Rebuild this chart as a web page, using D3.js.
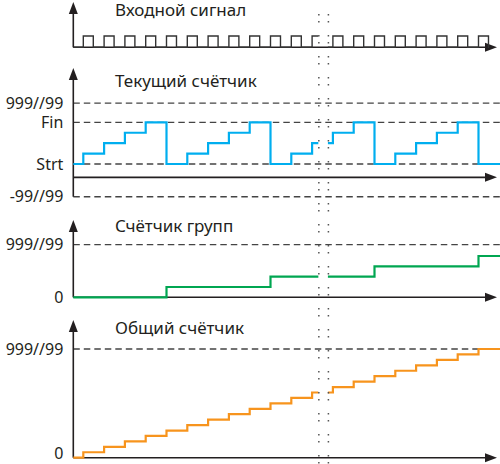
<!DOCTYPE html>
<html>
<head>
<meta charset="utf-8">
<script src="https://cdn.jsdelivr.net/npm/d3@7"></script>
<style>
  body { margin: 0; background: #fff; }
  svg { display: block; font-family: "Noto Sans", sans-serif; }
</style>
</head>
<body>
<svg></svg>
<script>
// pulse / step moments, in input periods
let stepTimes = [0, 1, 2, 3, 4, 5, 6, 7, 8, 9, 10, 11, 12, 13, 14, 15, 16, 17, 18, 19];
let pulseWidth = 0.48;
// counter values after each step
let currentCount = [1, 2, 3, 4, 0, 1, 2, 3, 4, 0, 1, 2, 3, 4, 0, 1, 2, 3, 4, 0];
let groupCount = [0, 0, 0, 0, 1, 1, 1, 1, 1, 2, 2, 2, 2, 2, 3, 3, 3, 3, 3, 4];
let totalCount = [1, 2, 3, 4, 5, 6, 7, 8, 9, 10, 11, 12, 13, 14, 15, 16, 17, 18, 19, 20];
// the time break (dotted lines)
let breakTimes = [11.3, 11.76];

let titles = ["Входной сигнал", "Текущий счётчик", "Счётчик групп", "Общий счётчик"];
let counterLabels = ["999//99", "Fin", "Strt", "-99//99"];
let counterLevels = [5.84, 4, 0, -3.14];
let groupLabels = ["999//99", "0"];
let groupLevels = [5.1, 0];
let totalLabels = ["999//99", "0"];
let totalLevels = [20, 0.85];

let width = 500;
let height = 464;
let axisX = 73.3;
let endX = 497;

let svg = d3.select("svg").attr("width", width).attr("height", height);

let xScale = d3.scaleLinear().domain([0, 19]).range([83.3, 478.5]);
let tStart = xScale.invert(axisX);
let tEnd = xScale.invert(width);

// panels: y scales and axis geometry
let panels = [
    { y: d3.scaleLinear().domain([0, 1]).range([47.3, 36]), tip: 2, base: 0, bottom: 0 },
    { y: d3.scaleLinear().domain([0, 4]).range([164, 122.3]), tip: 68, base: -1.28, bottom: -3.14,
      labels: counterLabels, levels: counterLevels, dashed: counterLevels },
    { y: d3.scaleLinear().domain([0, 4]).range([297.3, 256]), tip: 220, base: 0, bottom: 0,
      labels: groupLabels, levels: groupLevels, dashed: [5.1] },
    { y: d3.scaleLinear().domain([0, 20]).range([457.7, 349]), tip: 320, base: 0, bottom: 0,
      labels: totalLabels, levels: totalLevels, dashed: [20] }
];
let titleY = [16, 87, 232, 333.5];

let ink = "#231f20";

// clip that cuts the series at the break
let defs = svg.append("defs");
let clip = defs.append("clipPath").attr("id", "gap");
clip.append("rect").attr("x", 0).attr("y", 0)
    .attr("width", xScale(breakTimes[0])).attr("height", height);
clip.append("rect").attr("x", xScale(breakTimes[1])).attr("y", 0)
    .attr("width", width - xScale(breakTimes[1])).attr("height", height);

function drawPanel(p, i) {
    let g = svg.append("g");
    let y = p.y;

    // dashed reference lines
    if (p.dashed) {
        g.selectAll("line.dash")
         .data(p.dashed)
         .enter()
         .append("line")
         .attr("class", "dash")
         .attr("x1", axisX).attr("x2", width)
         .attr("y1", d => y(d)).attr("y2", d => y(d))
         .attr("stroke", "#444")
         .attr("stroke-width", 1.3)
         .attr("stroke-dasharray", "6.5 4");
    }

    // level labels through a left axis
    if (p.labels) {
        let axis = d3.axisLeft(y)
                     .tickValues(p.levels)
                     .tickFormat((d, k) => p.labels[k])
                     .tickSize(0)
                     .tickPadding(10);
        let a = g.append("g")
                 .attr("transform", `translate(${axisX}, 0)`)
                 .call(axis);
        a.select(".domain").remove();
        a.selectAll("text")
         .attr("font-size", 16)
         .attr("font-family", "Noto Sans, sans-serif")
         .attr("fill", ink);
    }

    // vertical axis with arrow
    let yb = y(p.base);
    let ybot = y(p.bottom);
    g.append("line")
     .attr("x1", axisX).attr("x2", axisX)
     .attr("y1", Math.max(yb, ybot)).attr("y2", p.tip + 8)
     .attr("stroke", ink).attr("stroke-width", 1.6);
    g.append("path")
     .attr("d", `M${axisX},${p.tip} L${axisX - 4.5},${p.tip + 12} L${axisX + 4.5},${p.tip + 12} Z`)
     .attr("fill", ink);

    // horizontal axis with arrow
    g.append("line")
     .attr("x1", axisX).attr("x2", endX - 6)
     .attr("y1", yb).attr("y2", yb)
     .attr("stroke", ink).attr("stroke-width", 1.6);
    g.append("path")
     .attr("d", `M${endX},${yb} L${endX - 12},${yb - 4.5} L${endX - 12},${yb + 4.5} Z`)
     .attr("fill", ink);

    g.append("text")
     .attr("x", 115).attr("y", titleY[i])
     .attr("font-size", 17)
     .attr("fill", ink)
     .text(titles[i]);
}

panels.forEach(drawPanel);

// step series
let stepLine = d3.line().curve(d3.curveStepAfter);

function stepPoints(values, y, startValue) {
    let pts = [[xScale(tStart), y(startValue)]];
    stepTimes.forEach((t, k) => pts.push([xScale(t), y(values[k])]));
    pts.push([xScale(tEnd), y(values[values.length - 1])]);
    return pts;
}

let series = svg.append("g").attr("clip-path", "url(#gap)");

// input pulses
let pulsePts = [[xScale(tStart), panels[0].y(0)]];
stepTimes.forEach(t => {
    pulsePts.push([xScale(t), panels[0].y(1)]);
    pulsePts.push([xScale(t + pulseWidth), panels[0].y(0)]);
});
pulsePts.push([endX - 8, panels[0].y(0)]);
series.append("path")
      .attr("d", stepLine(pulsePts))
      .attr("fill", "none")
      .attr("stroke", "#333")
      .attr("stroke-width", 1.4);

series.append("path")
      .attr("d", stepLine(stepPoints(currentCount, panels[1].y, 0)))
      .attr("fill", "none").attr("stroke", "#00aeef").attr("stroke-width", 2.2);

series.append("path")
      .attr("d", stepLine(stepPoints(groupCount, panels[2].y, 0)))
      .attr("fill", "none").attr("stroke", "#00a651").attr("stroke-width", 2.2);

series.append("path")
      .attr("d", stepLine(stepPoints(totalCount, panels[3].y, 0)))
      .attr("fill", "none").attr("stroke", "#f7941d").attr("stroke-width", 2.2);

// dotted break lines
svg.selectAll("line.brk")
   .data(breakTimes)
   .enter()
   .append("line")
   .attr("class", "brk")
   .attr("x1", d => xScale(d) + 0.5).attr("x2", d => xScale(d) + 0.5)
   .attr("y1", 14).attr("y2", height)
   .attr("stroke", "#555")
   .attr("stroke-width", 1.5)
   .attr("stroke-dasharray", "1.5 5.5 1.5 12.5");
</script>
</body>
</html>
